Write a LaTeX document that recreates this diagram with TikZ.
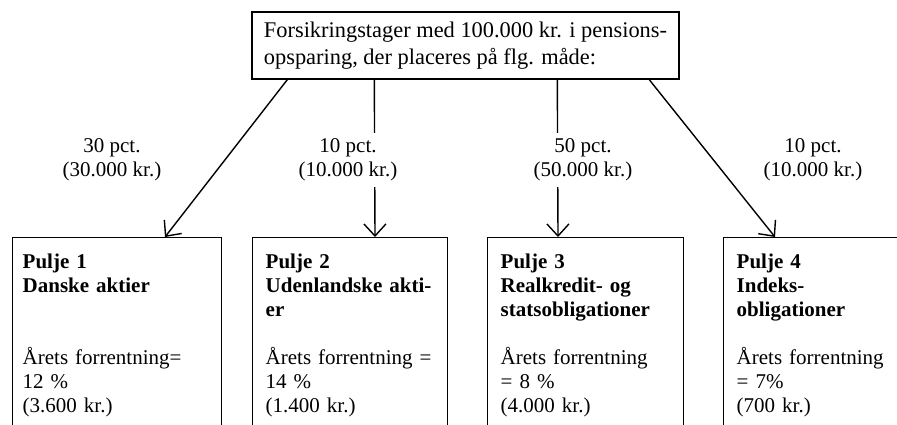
\documentclass[tikz,border=0pt]{standalone}
\usepackage{fontspec}
\setmainfont{Liberation Serif}
\usetikzlibrary{arrows.meta}
\begin{document}
\begin{tikzpicture}[x=0.5pt,y=-0.5pt,>={Straight Barb[length=6pt,width=11pt]},
    font=\fontsize{10.5}{12}\selectfont,line width=0.7pt,
    pool/.style={draw,anchor=north west,align=left,inner xsep=6.5pt,inner ysep=8pt,text depth=110pt},
    share/.style={fill=white,align=center,inner sep=3pt}]
    \useasboundingbox (0,0) rectangle (897,424);
    \clip (0,0) rectangle (897,424);
    \node[draw,align=left,minimum width=213.5pt,minimum height=33.5pt,font=\fontsize{11.2}{13.2}\selectfont] (T) at (465.5,45.5)
        {Forsikringstager med 100.000 kr. i pensions-\\opsparing, der placeres på flg. måde:};
    \node[pool,inner xsep=5pt,text width=94.5pt] (P_1) at (12,237)
        {\textbf{Pulje 1}\\\textbf{Danske aktier}\\~\\~\\Årets forrentning=\\12 \%\\(3.600 kr.)};
    \node[pool,text width=84.5pt] (P_2) at (252,237)
        {\textbf{Pulje 2}\\\textbf{Udenlandske akti-}\\\textbf{er}\\~\\Årets forrentning =\\14 \%\\(1.400 kr.)};
    \node[pool,text width=85pt] (P_3) at (487,237)
        {\textbf{Pulje 3}\\\textbf{Realkredit- og}\\\textbf{statsobligationer}\\~\\Årets forrentning\\= 8 \%\\(4.000 kr.)};
    \node[pool,text width=140pt] (P_4) at (723,237)
        {\textbf{Pulje 4}\\\textbf{Indeks-}\\\textbf{obligationer}\\~\\Årets forrentning\\= 7\%\\(700 kr.)};
    \draw[->] ([xshift=18pt]T.south west) -- ([xshift=76.5pt]P_1.north west);
    \draw[->] ([xshift=61.5pt]T.south west) -- ([xshift=61.5pt]P_2.north west);
    \draw[->] ([xshift=153pt]T.south west) -- ([xshift=35.5pt]P_3.north west);
    \draw[->] ([xshift=199pt]T.south west) -- ([xshift=26pt]P_4.north west);
    \node[share] (S_1) at (112,160) {30 pct.\\(30.000 kr.)};
    \node[share] (S_2) at (348,160) {10 pct.\\(10.000 kr.)};
    \node[share] (S_3) at (583,160) {50 pct.\\(50.000 kr.)};
    \node[share] (S_4) at (813,160) {10 pct.\\(10.000 kr.)};
\end{tikzpicture}
\end{document}
